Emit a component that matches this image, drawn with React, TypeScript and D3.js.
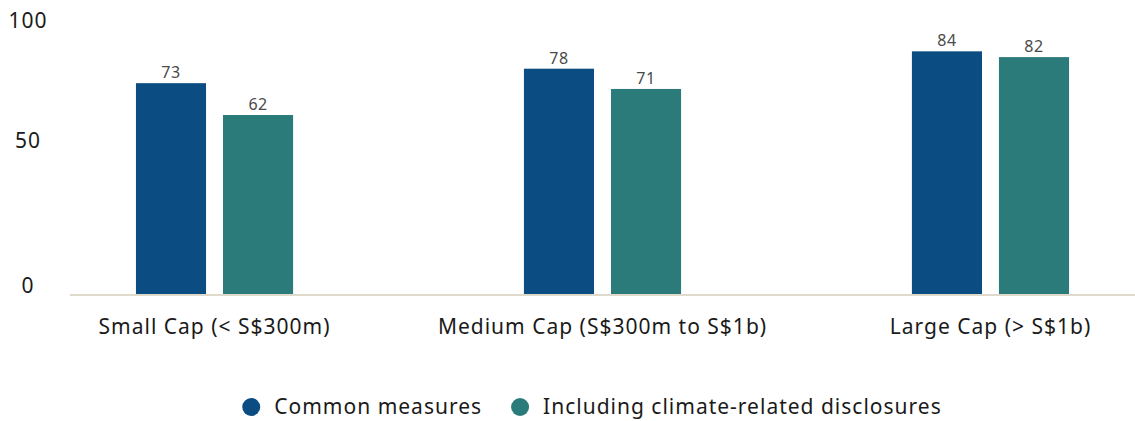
import React, { useEffect, useRef } from "react";
import * as d3 from "d3";

const categories = ["Small Cap (< S$300m)", "Medium Cap (S$300m to S$1b)", "Large Cap (> S$1b)"];
const seriesNames = ["Common measures", "Including climate-related disclosures"];
const commonMeasures = [73, 78, 84];
const climateDisclosures = [62, 71, 82];
const yTicks = [0, 50, 100];

const W = 1135;
const H = 421;
const colors = ["#0b4d83", "#2b7b7a"];
const font = "'Noto Sans', 'Open Sans', sans-serif";

const App: React.FC = () => {
  const svgRef = useRef<SVGSVGElement | null>(null);

  useEffect(() => {
    const svg = d3.select(svgRef.current);
    svg.selectAll("*").remove();

    const series = [commonMeasures, climateDisclosures];

    // scales
    const x0 = d3.scaleBand<string>().domain(categories).range([70, W]).paddingInner(0.595).paddingOuter(0.17);
    const x1 = d3.scaleBand<number>().domain([0, 1]).range([0, x0.bandwidth()]).paddingInner(0.195);
    const y = d3.scaleLinear().domain([0, 100]).range([294.5, 5]);

    // y tick labels
    svg
      .append("g")
      .selectAll("text")
      .data(yTicks)
      .enter()
      .append("text")
      .attr("x", 28)
      .attr("y", (d) => Math.min(Math.max(y(d) - 9, 20), 287))
      .attr("dy", "0.36em")
      .attr("text-anchor", "middle")
      .attr("font-family", font)
      .attr("font-size", 21)
      .attr("letter-spacing", 1)
      .attr("fill", "#1a1a1a")
      .text((d) => d);

    // bars
    const groups = svg
      .append("g")
      .selectAll("g")
      .data(categories)
      .enter()
      .append("g")
      .attr("transform", (d) => `translate(${x0(d)},0)`);

    groups
      .selectAll("rect")
      .data((_, i) => series.map((s, si) => ({ si, v: s[i] })))
      .enter()
      .append("rect")
      .attr("x", (d) => x1(d.si)!)
      .attr("y", (d) => y(d.v))
      .attr("width", x1.bandwidth())
      .attr("height", (d) => y(0) - y(d.v))
      .attr("fill", (d) => colors[d.si]);

    groups
      .selectAll("text")
      .data((_, i) => series.map((s, si) => ({ si, v: s[i] })))
      .enter()
      .append("text")
      .attr("x", (d) => x1(d.si)! + x1.bandwidth() / 2)
      .attr("y", (d) => y(d.v) - 5)
      .attr("text-anchor", "middle")
      .attr("font-family", font)
      .attr("font-size", 16)
      .attr("letter-spacing", 0.5)
      .attr("fill", "#4a4a4a")
      .text((d) => d.v);

    // baseline
    svg
      .append("line")
      .attr("x1", 70)
      .attr("x2", W)
      .attr("y1", y(0) + 0.5)
      .attr("y2", y(0) + 0.5)
      .attr("stroke", "#e0dacd")
      .attr("stroke-width", 2);

    // category labels
    svg
      .append("g")
      .selectAll("text")
      .data(categories)
      .enter()
      .append("text")
      .attr("x", (d) => x0(d)! + x0.bandwidth() / 2)
      .attr("y", 334)
      .attr("text-anchor", "middle")
      .attr("font-family", font)
      .attr("font-size", 21)
      .attr("letter-spacing", 1)
      .attr("fill", "#1a1a1a")
      .text((d) => d);

    // legend
    const legend = svg.append("g");
    let offset = 0;
    seriesNames.forEach((name, i) => {
      const item = legend.append("g").attr("transform", `translate(${offset},0)`);
      item.append("circle").attr("cx", 9).attr("cy", 0).attr("r", 9).attr("fill", colors[i]);
      const t = item
        .append("text")
        .attr("x", 32)
        .attr("dy", "0.35em")
        .attr("font-family", font)
        .attr("font-size", 21)
        .attr("letter-spacing", 1)
        .attr("fill", "#1a1a1a")
        .text(name);
      const len = (t.node() as SVGTextElement).getComputedTextLength();
      offset += 32 + len + 29;
    });
    const total = offset - 29;
    legend.attr("transform", `translate(${592 - total / 2},407)`);
  }, []);

  return (
    <svg
      ref={svgRef}
      width={W}
      height={H}
      style={{ position: "absolute", left: 0, top: 0, background: "#fff" }}
    />
  );
};

export default App;
